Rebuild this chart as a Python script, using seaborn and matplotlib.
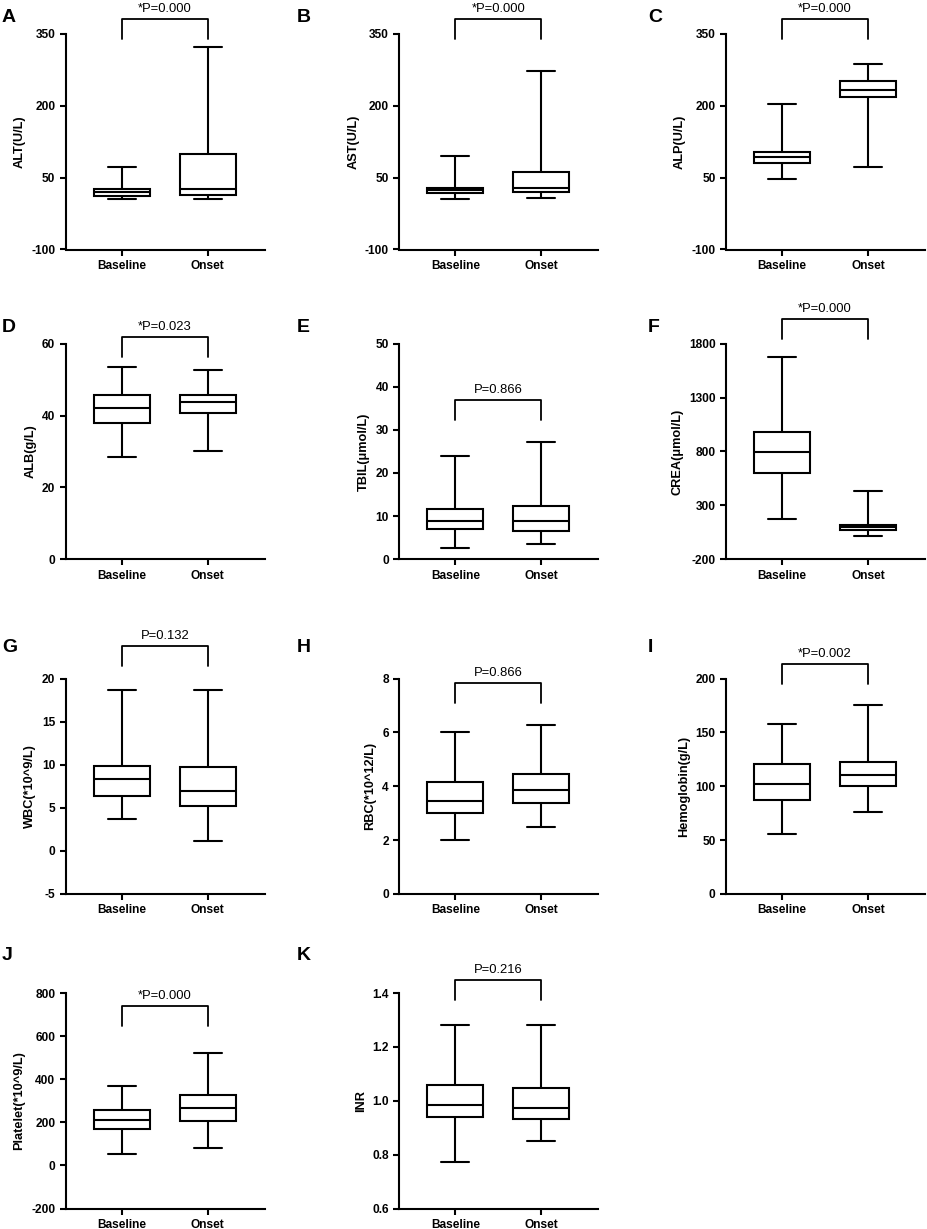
import numpy as np
import pandas as pd
import matplotlib
matplotlib.use("Agg")
import matplotlib.pyplot as plt
import matplotlib.transforms as mtransforms
import seaborn as sns

# five-number summaries: min, Q1, median, Q3, max
groups = ["Baseline", "Onset"]

alt_baseline = [4.6, 11.5, 20, 25.5, 73]
alt_onset = [4.6, 13.6, 26, 99.5, 323]
ast_baseline = [5, 19, 24, 29, 96]
ast_onset = [8, 20, 27.4, 61, 272]
alp_baseline = [47.7, 80.5, 94, 103, 204]
alp_onset = [72, 219, 232.5, 251, 287]
alb_baseline = [28.5, 38, 42, 45.6, 53.6]
alb_onset = [30.1, 40.8, 43.8, 45.6, 52.8]
tbil_baseline = [2.6, 7.1, 8.95, 11.6, 24]
tbil_onset = [3.5, 6.6, 8.95, 12.4, 27.2]
crea_baseline = [170, 596, 794, 982, 1680]
crea_onset = [19, 69, 96, 121, 433]
wbc_baseline = [3.7, 6.4, 8.3, 9.8, 18.7]
wbc_onset = [1.2, 5.25, 6.9, 9.7, 18.7]
rbc_baseline = [2.0, 3.02, 3.44, 4.14, 6.0]
rbc_onset = [2.48, 3.38, 3.85, 4.46, 6.27]
hb_baseline = [56, 87.6, 102.5, 120.7, 157.6]
hb_onset = [76.5, 100, 110.8, 122.6, 175]
plt_baseline = [55, 171, 211, 256, 369]
plt_onset = [83, 205, 268, 327, 523]
inr_baseline = [0.772, 0.941, 0.986, 1.06, 1.282]
inr_onset = [0.852, 0.931, 0.972, 1.049, 1.28]

panel_letters = ["A", "B", "C", "D", "E", "F", "G", "H", "I", "J", "K"]
y_labels = ["ALT(U/L)", "AST(U/L)", "ALP(U/L)", "ALB(g/L)", "TBIL(μmol/L)",
            "CREA(μmol/L)", "WBC(*10^9/L)", "RBC(*10^12/L)", "Hemoglobin(g/L)",
            "Platelet(*10^9/L)", "INR"]
p_labels = ["*P=0.000", "*P=0.000", "*P=0.000", "*P=0.023", "P=0.866",
            "*P=0.000", "P=0.132", "P=0.866", "*P=0.002", "*P=0.000", "P=0.216"]
y_ticks = [[-100, 50, 200, 350], [-100, 50, 200, 350], [-100, 50, 200, 350],
           [0, 20, 40, 60], [0, 10, 20, 30, 40, 50], [-200, 300, 800, 1300, 1800],
           [-5, 0, 5, 10, 15, 20], [0, 2, 4, 6, 8], [0, 50, 100, 150, 200],
           [-200, 0, 200, 400, 600, 800], [0.6, 0.8, 1.0, 1.2, 1.4]]
baseline_sets = [alt_baseline, ast_baseline, alp_baseline, alb_baseline, tbil_baseline,
                 crea_baseline, wbc_baseline, rbc_baseline, hb_baseline, plt_baseline,
                 inr_baseline]
onset_sets = [alt_onset, ast_onset, alp_onset, alb_onset, tbil_onset, crea_onset,
              wbc_onset, rbc_onset, hb_onset, plt_onset, inr_onset]

# bracket height (axes fraction) for each panel
bracket_top = [1.07, 1.07, 1.07, 1.03, 0.74, 1.114, 1.15, 0.98, 1.068, 0.94, 1.06]

sns.set_style("ticks")
plt.rcParams["font.family"] = ["Liberation Sans", "DejaVu Sans"]
plt.rcParams["font.weight"] = "bold"
plt.rcParams["axes.unicode_minus"] = False
for key in ["text.color", "axes.labelcolor", "xtick.color", "ytick.color", "axes.edgecolor"]:
    plt.rcParams[key] = "black"

W, H = 927, 1229
fig = plt.figure(figsize=(W / 100, H / 100), dpi=100)

col_left = [65.7, 399.3, 726]
row_top = [34, 343.7, 678.5, 993]
ax_w, ax_h = 199, 215.5
letter_x = [2, 297, 648]
letter_y = [18, 327, 647, 955]

lw = 1.5
for i in range(11):
    r, c = divmod(i, 3)
    ax = fig.add_axes([col_left[c] / W, 1 - (row_top[r] + ax_h) / H, ax_w / W, ax_h / H])

    df = pd.DataFrame({
        "group": [groups[0]] * 5 + [groups[1]] * 5,
        "value": baseline_sets[i] + onset_sets[i],
    })
    sns.boxplot(data=df, x="group", y="value", order=groups, whis=(0, 100),
                width=0.65, color="white", linecolor="black", linewidth=lw, ax=ax)

    ticks = y_ticks[i]
    ax.set_ylim(ticks[0], ticks[-1])
    ax.set_yticks(ticks)
    ax.set_xlim(-0.65, 1.66)
    ax.set_xlabel("")
    ax.set_ylabel(y_labels[i], fontsize=9.2, fontweight="bold")
    ax.tick_params(labelsize=8.6, width=lw, length=4, colors="black")
    sns.despine(ax=ax)
    for s in ["left", "bottom"]:
        ax.spines[s].set_linewidth(lw)
        ax.spines[s].set_color("black")

    # significance bracket
    trans = mtransforms.blended_transform_factory(ax.transData, ax.transAxes)
    top = bracket_top[i]
    ax.plot([0, 0, 1, 1], [top - 0.094, top, top, top - 0.094], color="black",
            lw=1.3, transform=trans, clip_on=False)
    ax.text(0.5, top + 0.033, p_labels[i], transform=trans, ha="center",
            va="baseline", fontsize=9.4, fontweight="normal")

    fig.text(letter_x[c] / W, 1 - letter_y[r] / H, panel_letters[i], fontsize=14,
             fontweight="bold", ha="left", va="center")

fig.savefig("out.png", dpi=100)
